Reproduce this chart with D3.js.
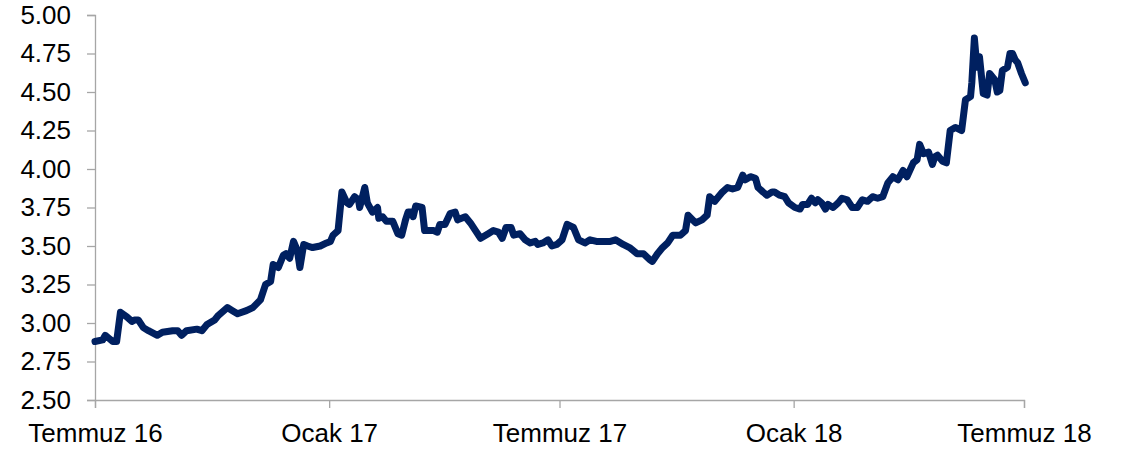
<!DOCTYPE html>
<html>
<head>
<meta charset="utf-8">
<script src="https://cdn.jsdelivr.net/npm/d3@7"></script>
<style>
  body { margin: 0; background: #fff; }
  svg text { font-family: "Liberation Sans", Arial, sans-serif; }
</style>
</head>
<body>
<script>
// series
const dates = [
  "2016-07-01","2016-07-07","2016-07-09","2016-07-12","2016-07-15","2016-07-18","2016-07-21","2016-07-26","2016-07-30",
  "2016-08-01","2016-08-04","2016-08-08","2016-08-12","2016-08-19","2016-08-23","2016-08-31",
  "2016-09-04","2016-09-07","2016-09-11","2016-09-19","2016-09-23","2016-09-27",
  "2016-10-03","2016-10-06","2016-10-13","2016-10-17","2016-10-21","2016-10-28",
  "2016-11-02","2016-11-08","2016-11-12","2016-11-16","2016-11-18","2016-11-22","2016-11-26","2016-11-28",
  "2016-12-01","2016-12-04","2016-12-07","2016-12-09","2016-12-12","2016-12-15","2016-12-19","2016-12-25","2016-12-30",
  "2017-01-02","2017-01-04","2017-01-08","2017-01-11","2017-01-15","2017-01-17","2017-01-21","2017-01-24","2017-01-25","2017-01-29","2017-01-31",
  "2017-02-04","2017-02-08","2017-02-09","2017-02-12","2017-02-15","2017-02-20","2017-02-24","2017-02-27",
  "2017-03-02","2017-03-04","2017-03-07","2017-03-08","2017-03-10","2017-03-15","2017-03-17","2017-03-24","2017-03-27","2017-03-29",
  "2017-04-02","2017-04-06","2017-04-10","2017-04-12","2017-04-18","2017-04-22","2017-04-26","2017-04-30",
  "2017-05-02","2017-05-06","2017-05-10","2017-05-14","2017-05-17","2017-05-20","2017-05-24","2017-05-26","2017-05-31",
  "2017-06-04","2017-06-08","2017-06-12","2017-06-14","2017-06-18","2017-06-22","2017-06-25","2017-06-29",
  "2017-07-03","2017-07-07","2017-07-12","2017-07-16","2017-07-21","2017-07-25","2017-07-30",
  "2017-08-04","2017-08-10","2017-08-14","2017-08-20","2017-08-25","2017-08-31",
  "2017-09-05","2017-09-10","2017-09-12","2017-09-16","2017-09-20","2017-09-24","2017-09-28",
  "2017-10-04","2017-10-08","2017-10-10","2017-10-16","2017-10-21","2017-10-25","2017-10-27","2017-10-31",
  "2017-11-06","2017-11-10","2017-11-14","2017-11-18","2017-11-22","2017-11-24","2017-11-28",
  "2017-12-02","2017-12-04","2017-12-08","2017-12-11","2017-12-15","2017-12-17","2017-12-21","2017-12-25","2017-12-28",
  "2018-01-02","2018-01-06","2018-01-08","2018-01-12","2018-01-15","2018-01-18","2018-01-20","2018-01-23","2018-01-26","2018-01-28",
  "2018-02-01","2018-02-05","2018-02-08","2018-02-12","2018-02-16","2018-02-20","2018-02-24","2018-02-28",
  "2018-03-04","2018-03-08","2018-03-12","2018-03-16","2018-03-20","2018-03-24","2018-03-28","2018-03-31",
  "2018-04-05","2018-04-08","2018-04-10","2018-04-13","2018-04-17","2018-04-20","2018-04-22","2018-04-24","2018-04-28",
  "2018-05-01","2018-05-04","2018-05-08","2018-05-13","2018-05-16","2018-05-20","2018-05-21","2018-05-23","2018-05-25","2018-05-27","2018-05-30",
  "2018-06-02","2018-06-04","2018-06-08","2018-06-10","2018-06-12","2018-06-14","2018-06-18","2018-06-20","2018-06-22","2018-06-24","2018-06-26","2018-06-29",
  "2018-07-02"
];
const values = [
  2.88,2.89,2.92,2.90,2.88,2.88,3.07,3.04,3.01,
  3.02,3.02,2.97,2.95,2.92,2.94,2.95,
  2.95,2.92,2.95,2.96,2.95,2.99,
  3.02,3.05,3.10,3.08,3.06,3.08,
  3.10,3.15,3.25,3.27,3.38,3.36,3.44,3.45,
  3.42,3.53,3.47,3.36,3.51,3.50,3.49,3.50,3.52,
  3.53,3.57,3.60,3.85,3.78,3.77,3.82,3.80,3.75,3.88,3.78,
  3.72,3.75,3.68,3.69,3.66,3.66,3.58,3.57,
  3.67,3.72,3.72,3.69,3.76,3.75,3.60,3.60,3.59,3.64,
  3.64,3.71,3.72,3.67,3.69,3.65,3.60,3.55,
  3.56,3.58,3.60,3.59,3.55,3.62,3.62,3.57,3.58,
  3.54,3.52,3.53,3.51,3.52,3.54,3.50,3.51,
  3.54,3.64,3.62,3.54,3.52,3.54,3.53,
  3.53,3.53,3.54,3.51,3.49,3.45,
  3.45,3.41,3.40,3.45,3.49,3.52,3.57,
  3.57,3.60,3.70,3.65,3.67,3.70,3.82,3.79,
  3.85,3.88,3.87,3.88,3.96,3.93,3.95,
  3.94,3.88,3.85,3.83,3.85,3.85,3.83,3.82,3.78,
  3.75,3.74,3.77,3.77,3.81,3.78,3.80,3.78,3.74,3.77,
  3.75,3.78,3.81,3.80,3.75,3.75,3.80,3.79,
  3.82,3.81,3.82,3.91,3.95,3.93,3.99,3.95,
  4.04,4.06,4.16,4.10,4.11,4.03,4.08,4.09,4.05,
  4.04,4.25,4.27,4.25,4.45,4.47,4.56,4.85,4.66,4.73,4.49,
  4.48,4.62,4.58,4.50,4.51,4.64,4.66,4.75,4.75,4.71,4.69,4.62,
  4.56
];

const yTicks = [2.50, 2.75, 3.00, 3.25, 3.50, 3.75, 4.00, 4.25, 4.50, 4.75, 5.00];
const xTickDates = ["2016-07-01", "2017-01-01", "2017-07-01", "2018-01-01", "2018-07-01"];
const xTickLabels = ["Temmuz 16", "Ocak 17", "Temmuz 17", "Ocak 18", "Temmuz 18"];

var w = 1130;
var h = 451;
var margin = { top: 15, right: 106, bottom: 51, left: 95 };
var lineColor = "#002060";
var axisColor = "#a6a6a6";

const parse = d3.timeParse("%Y-%m-%d");
const points = dates.map((d, i) => ({ date: parse(d), value: values[i] }));
const tickDates = xTickDates.map(parse);

document.addEventListener("DOMContentLoaded", () => {
    var svg = d3.select("body")
        .append("svg")
        .attr("width", w)
        .attr("height", h);

    var x = d3.scaleTime()
        .domain([tickDates[0], tickDates[tickDates.length - 1]])
        .range([margin.left, w - margin.right]);

    var y = d3.scaleLinear()
        .domain([2.5, 5])
        .range([h - margin.bottom, margin.top]);

    // y axis
    var yAxis = svg.append("g")
        .attr("transform", "translate(" + margin.left + ",0)")
        .call(d3.axisLeft(y).tickValues(yTicks).tickFormat(d3.format(".2f")).tickSize(8).tickPadding(16));

    // x axis
    var xAxis = svg.append("g")
        .attr("transform", "translate(0," + (h - margin.bottom) + ")")
        .call(d3.axisBottom(x).tickValues(tickDates)
            .tickFormat((d, i) => xTickLabels[i]).tickSize(8).tickPadding(16));

    [yAxis, xAxis].forEach(g => {
        g.select(".domain").attr("stroke", axisColor).attr("stroke-width", 1.3);
        g.selectAll(".tick line").attr("stroke", axisColor).attr("stroke-width", 1.3);
        g.selectAll(".tick text")
            .attr("fill", "#000")
            .style("font-size", "26px");
    });

    var line = d3.line()
        .x(d => x(d.date))
        .y(d => y(d.value));

    svg.append("path")
        .datum(points)
        .attr("d", line)
        .attr("fill", "none")
        .attr("stroke", lineColor)
        .attr("stroke-width", 7)
        .attr("stroke-linejoin", "round")
        .attr("stroke-linecap", "round");
});
</script>
</body>
</html>
